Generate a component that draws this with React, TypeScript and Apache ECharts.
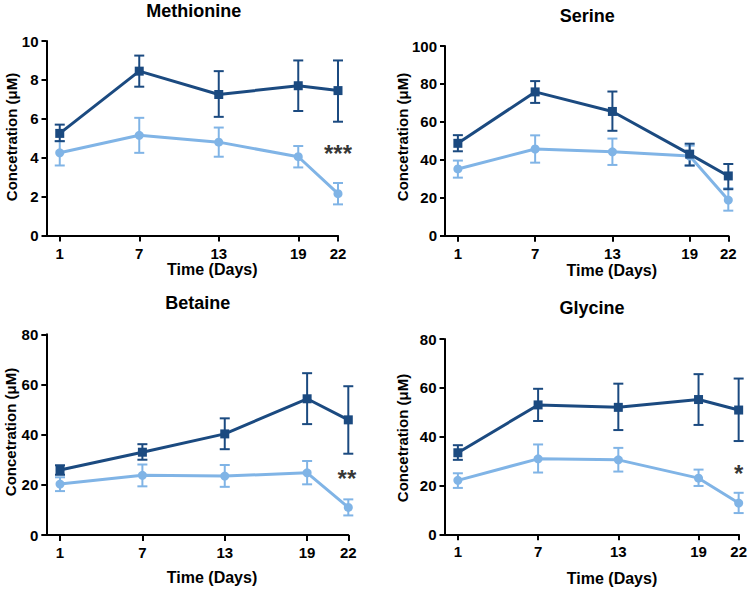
import React, { useEffect, useRef } from "react";
import * as echarts from "echarts";

const days = [1, 7, 13, 19, 22];
const tickDays = [1, 7, 13, 19, 22];

const panelTitles = ["Methionine", "Serine", "Betaine", "Glycine"];
const yMax = [10, 100, 80, 80];
const yStep = [2, 20, 20, 20];

// Methionine
const metDark = [5.25, 8.45, 7.25, 7.7, 7.45];
const metDarkLow = [4.85, 7.65, 6.1, 6.4, 5.85];
const metDarkHigh = [5.7, 9.25, 8.45, 9.0, 9.0];
const metLight = [4.25, 5.15, 4.8, 4.05, 2.15];
const metLightLow = [3.6, 4.25, 4.05, 3.5, 1.6];
const metLightHigh = [4.85, 6.05, 5.55, 4.6, 2.7];

// Serine
const serDark = [48.7, 75.8, 65.5, 43, 31.5];
const serDarkLow = [44.5, 70, 55.3, 37, 24.5];
const serDarkHigh = [53, 81.5, 76, 48.5, 37.8];
const serLight = [35.2, 45.7, 44.2, 42, 18.8];
const serLightLow = [30.6, 38.5, 37.3, 37, 13.2];
const serLightHigh = [39.6, 52.9, 51.2, 47.5, 25];

// Betaine
const betDark = [25.9, 33, 40.3, 54.3, 45.9];
const betDarkLow = [24, 30, 34.2, 44.2, 32.4];
const betDarkHigh = [27.8, 36.2, 46.5, 64.5, 59.3];
const betLight = [20.3, 23.8, 23.5, 24.8, 11];
const betLightLow = [17.5, 19.4, 19.2, 20.2, 7.8];
const betLightHigh = [23, 28.1, 27.9, 29.5, 14.2];

// Glycine
const glyDark = [33.4, 53, 52, 55.2, 50.9];
const glyDarkLow = [30.5, 46.4, 42.7, 44.8, 38.2];
const glyDarkHigh = [36.5, 59.6, 61.7, 65.6, 63.8];
const glyLight = [22.1, 30.9, 30.5, 23, 12.8];
const glyLightLow = [19, 25.3, 25.7, 19.8, 8.7];
const glyLightHigh = [25, 36.8, 35.4, 26.5, 17];

// significance annotations
const starPanel = [0, 2, 3];
const starDay = [22, 21.9, 22];
const starValue = [4.2, 22.6, 25];
const starText = ["***", "**", "*"];

const DARK = "#1b4a80";
const LIGHT = "#80b4e6";
const FONT = "'Liberation Sans', Arial, Helvetica, sans-serif";

const grids = [
  { left: 46.5, top: 41, width: 291.5, height: 194.5 },
  { left: 445, top: 46, width: 283.3, height: 189.7 },
  { left: 46.3, top: 334.3, width: 302, height: 200.7 },
  { left: 444.5, top: 339, width: 294.8, height: 195.3 },
];

const titlePos = [
  [193.7, 11],
  [587.3, 15.5],
  [197.7, 302.8],
  [592, 307.5],
];
const xNamePos = [
  [212.3, 269.5],
  [611.8, 270],
  [212, 577.3],
  [612, 578],
];
const yNamePos = [
  [11.7, 137],
  [402, 137],
  [10, 432],
  [402.3, 438],
];

const panels = [
  [metDark, metDarkLow, metDarkHigh, metLight, metLightLow, metLightHigh],
  [serDark, serDarkLow, serDarkHigh, serLight, serLightLow, serLightHigh],
  [betDark, betDarkLow, betDarkHigh, betLight, betLightLow, betLightHigh],
  [glyDark, glyDarkLow, glyDarkHigh, glyLight, glyLightLow, glyLightHigh],
];

function errorSeries(idx: number, low: number[], high: number[], color: string) {
  return {
    type: "custom",
    xAxisIndex: idx,
    yAxisIndex: idx,
    clip: false,
    silent: true,
    data: days.map((d, i) => [d, low[i], high[i]]),
    renderItem: (params: any, api: any) => {
      const x = api.value(0);
      const lo = api.coord([x, api.value(1)]);
      const hi = api.coord([x, api.value(2)]);
      const hw = 5;
      const style = { stroke: color, lineWidth: 2 };
      return {
        type: "group",
        children: [
          { type: "line", shape: { x1: lo[0], y1: lo[1], x2: hi[0], y2: hi[1] }, style },
          { type: "line", shape: { x1: hi[0] - hw, y1: hi[1], x2: hi[0] + hw, y2: hi[1] }, style },
          { type: "line", shape: { x1: lo[0] - hw, y1: lo[1], x2: lo[0] + hw, y2: lo[1] }, style },
        ],
      };
    },
  };
}

function lineSeries(idx: number, vals: number[], color: string, symbol: string, size: number) {
  return {
    type: "line",
    xAxisIndex: idx,
    yAxisIndex: idx,
    data: days.map((d, i) => [d, vals[i]]),
    symbol,
    symbolSize: size,
    showSymbol: true,
    lineStyle: { color, width: 3 },
    itemStyle: { color, borderWidth: 0 },
    clip: false,
    silent: true,
  };
}

export default function App() {
  const ref = useRef<HTMLDivElement>(null);
  useEffect(() => {
    if (!ref.current) return;
    const chart = echarts.init(ref.current, null, { renderer: "svg" });
    const axisLineStyle = { color: "#000", width: 2 };
    const xAxis = grids.map((_, i) => ({
      type: "value",
      gridIndex: i,
      min: 0,
      max: 22,
      axisLine: { show: true, onZero: false, lineStyle: axisLineStyle },
      axisTick: { show: true, length: 6, lineStyle: axisLineStyle, customValues: tickDays },
      axisLabel: {
        show: true,
        customValues: tickDays,
        color: "#000",
        fontWeight: "bold",
        fontSize: 15,
        fontFamily: FONT,
        margin: 10,
      },
      splitLine: { show: false },
    }));
    const yAxis = grids.map((_, i) => ({
      type: "value",
      gridIndex: i,
      min: 0,
      max: yMax[i],
      interval: yStep[i],
      axisLine: { show: true, onZero: false, lineStyle: axisLineStyle },
      axisTick: { show: true, length: 5, lineStyle: axisLineStyle },
      axisLabel: {
        color: "#000",
        fontWeight: "bold",
        fontSize: 15,
        fontFamily: FONT,
        margin: 8,
      },
      splitLine: { show: false },
    }));
    const series: any[] = [];
    panels.forEach((p, i) => {
      const [d, dl, dh, l, ll, lh] = p;
      series.push(lineSeries(i, l, LIGHT, "circle", 9));
      series.push(errorSeries(i, ll, lh, LIGHT));
      series.push(lineSeries(i, d, DARK, "rect", 9));
      series.push(errorSeries(i, dl, dh, DARK));
    });
    starPanel.forEach((pi, k) => {
      series.push({
        type: "scatter",
        xAxisIndex: pi,
        yAxisIndex: pi,
        clip: false,
        silent: true,
        symbolSize: 1,
        itemStyle: { color: "rgba(0,0,0,0)" },
        data: [[starDay[k], starValue[k]]],
        label: {
          show: true,
          position: "inside",
          formatter: starText[k],
          color: "#000",
          fontSize: 24,
          fontWeight: "bold",
          fontFamily: FONT,
        },
      });
    });
    const graphic: any[] = [];
    panelTitles.forEach((t, i) => {
      graphic.push({
        type: "text",
        x: titlePos[i][0],
        y: titlePos[i][1],
        style: {
          text: t,
          fontSize: 18,
          fontWeight: "bold",
          fontFamily: FONT,
          fill: "#000",
          align: "center",
          verticalAlign: "middle",
        },
      });
      graphic.push({
        type: "text",
        x: xNamePos[i][0],
        y: xNamePos[i][1],
        style: {
          text: "Time (Days)",
          fontSize: 16,
          fontWeight: "bold",
          fontFamily: FONT,
          fill: "#000",
          align: "center",
          verticalAlign: "middle",
        },
      });
      graphic.push({
        type: "text",
        x: yNamePos[i][0],
        y: yNamePos[i][1],
        rotation: Math.PI / 2,
        style: {
          text: "Concetration (μM)",
          fontSize: 15,
          fontWeight: "bold",
          fontFamily: FONT,
          fill: "#000",
          align: "center",
          verticalAlign: "middle",
        },
      });
    });
    chart.setOption({
      animation: false,
      backgroundColor: "#fff",
      grid: grids.map((g) => ({ ...g, containLabel: false })),
      xAxis,
      yAxis,
      series,
      graphic,
    });
    return () => chart.dispose();
  }, []);
  return (
    <div
      ref={ref}
      style={{ position: "fixed", left: 0, top: 0, width: 750, height: 590, background: "#fff" }}
    />
  );
}
